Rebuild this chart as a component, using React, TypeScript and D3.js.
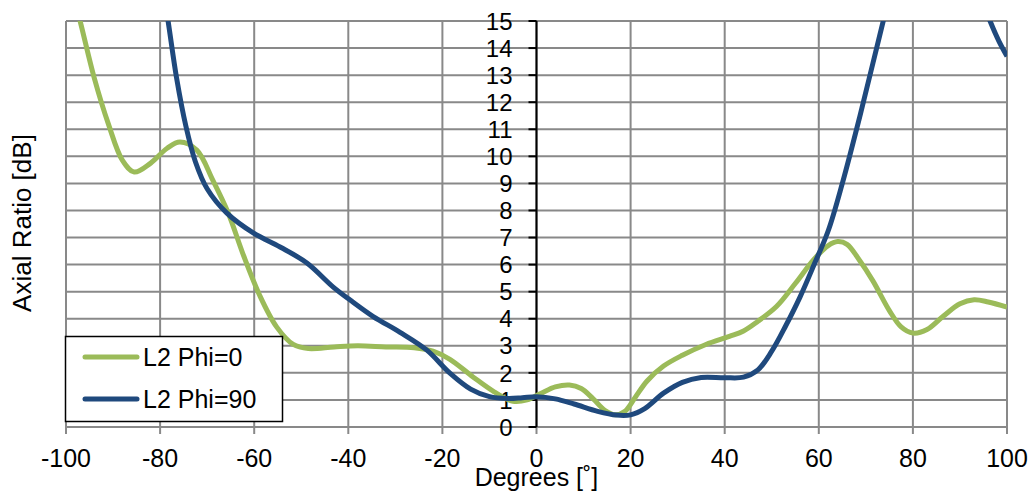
import React from "react";
import * as d3 from "d3";

const xTicks = [-100, -80, -60, -40, -20, 0, 20, 40, 60, 80, 100];
const yTicks = [0, 1, 2, 3, 4, 5, 6, 7, 8, 9, 10, 11, 12, 13, 14, 15];

const phi0X = [-100, -97, -94, -91, -88, -85.5, -82, -78.5, -75.8, -72.2, -68.8, -65.5, -62.4, -58.8, -55.2, -51.7, -48.5, -43, -38, -32, -26, -22, -18.4, -13.5, -9, -5, -2, 1, 4, 7, 9.5, 12, 14.5, 16.8, 18.8, 21, 23.5, 27, 31, 36, 41, 44, 47, 51, 55, 59, 62, 64, 66, 68.5, 71.5, 75, 77.5, 80, 83, 86.5, 90, 93, 96, 100];
const phi0Y = [17, 15, 12.9, 11.2, 9.85, 9.42, 9.75, 10.3, 10.53, 10.23, 9.12, 7.9, 6.4, 4.85, 3.69, 3.05, 2.9, 2.96, 3.0, 2.96, 2.93, 2.8, 2.5, 1.85, 1.3, 0.95, 1.0, 1.25, 1.48, 1.55, 1.42, 1.05, 0.62, 0.45, 0.58, 1.1, 1.7, 2.25, 2.65, 3.05, 3.35, 3.55, 3.9, 4.45, 5.3, 6.2, 6.7, 6.85, 6.75, 6.2, 5.4, 4.3, 3.7, 3.47, 3.6, 4.1, 4.55, 4.7, 4.62, 4.43];

const phi90X = [-80, -78.3, -76.5, -74.5, -72.5, -70, -65.8, -60.2, -54.5, -48.8, -43.2, -39.6, -34.7, -29, -23.3, -18.4, -14, -10, -6, -3, 0, 4, 8, 13, 17, 20, 23, 27, 31, 35, 40, 44, 47, 50, 53, 56, 59, 62, 65, 68.7, 71.5, 73.7, 76, 80, 85, 90, 94, 96.4, 98.3, 100];
const phi90Y = [16.9, 15, 12.9, 11.1, 9.8, 8.8, 7.9, 7.17, 6.65, 6.06, 5.17, 4.69, 4.08, 3.5, 2.84, 1.99, 1.4, 1.12, 1.05, 1.08, 1.12, 1.04, 0.85, 0.58, 0.44, 0.45, 0.68, 1.25, 1.65, 1.83, 1.82, 1.84, 2.1, 2.8, 3.75, 4.8, 6.0, 7.25, 9.0, 11.46, 13.44, 15, 16.6, 19, 20.5, 19, 16.1, 15, 14.25, 13.7];

const seriesNames = ["L2 Phi=0", "L2 Phi=90"];
const seriesColors = ["#9BBB59", "#1F497D"];

export default function App() {
  const W = 1034, H = 492;
  const left = 66, right = 1007, top = 21, bottom = 427;
  const x = d3.scaleLinear().domain([-100, 100]).range([left, right]);
  const y = d3.scaleLinear().domain([0, 15]).range([bottom, top]);
  const line = d3
    .line<[number, number]>()
    .x((d) => x(d[0]))
    .y((d) => y(d[1]))
    .curve(d3.curveCatmullRom.alpha(0.5));
  const s0 = phi0X.map((v, i) => [v, phi0Y[i]] as [number, number]);
  const s1 = phi90X.map((v, i) => [v, phi90Y[i]] as [number, number]);
  const grid = "#898989";
  const font = "'Liberation Sans', Arial, sans-serif";
  const x0 = x(0);
  return (
    <svg width={W} height={H} style={{ position: "absolute", left: 0, top: 0, background: "#fff" }} fontFamily={font}>
      <defs>
        <clipPath id="plotclip">
          <rect x={left} y={top} width={right - left} height={bottom - top} />
        </clipPath>
      </defs>
      {yTicks.map((t) => (
        <line key={"gy" + t} x1={left} x2={right} y1={y(t)} y2={y(t)} stroke={grid} strokeWidth={2} />
      ))}
      {xTicks.map((t) => (
        <line key={"gx" + t} x1={x(t)} x2={x(t)} y1={top} y2={bottom + 7} stroke={grid} strokeWidth={2} />
      ))}
      <line x1={x0} x2={x0} y1={top} y2={bottom} stroke="#000" strokeWidth={2} />
      {yTicks.map((t) => (
        <line key={"ty" + t} x1={x0 - 8} x2={x0} y1={y(t)} y2={y(t)} stroke="#000" strokeWidth={2} />
      ))}
      {yTicks.map((t) => (
        <text key={"ly" + t} x={x0 - 24} y={y(t)} dy="0.36em" textAnchor="end" fontSize={24} fill="#000">
          {t}
        </text>
      ))}
      {xTicks.map((t) => (
        <text key={"lx" + t} x={x(t)} y={467} textAnchor="middle" fontSize={25} fill="#000">
          {t}
        </text>
      ))}
      <g clipPath="url(#plotclip)">
        <path d={line(s0) || ""} fill="none" stroke={seriesColors[0]} strokeWidth={5} strokeLinejoin="round" />
        <path d={line(s1) || ""} fill="none" stroke={seriesColors[1]} strokeWidth={5} strokeLinejoin="round" />
      </g>
      <text x={x0} y={486} textAnchor="middle" fontSize={25} fill="#000">
        Degrees [˚]
      </text>
      <text transform={`translate(31,223) rotate(-90)`} textAnchor="middle" fontSize={26} fill="#000">
        Axial Ratio [dB]
      </text>
      <rect x={65.5} y={336.5} width={217} height={85} fill="#fff" stroke="#000" strokeWidth={1.5} />
      {seriesNames.map((n, i) => (
        <g key={n}>
          <line x1={85} x2={137} y1={357 + i * 42} y2={357 + i * 42} stroke={seriesColors[i]} strokeWidth={5} strokeLinecap="round" />
          <text x={143} y={366 + i * 42} fontSize={25} fill="#000">
            {n}
          </text>
        </g>
      ))}
    </svg>
  );
}
